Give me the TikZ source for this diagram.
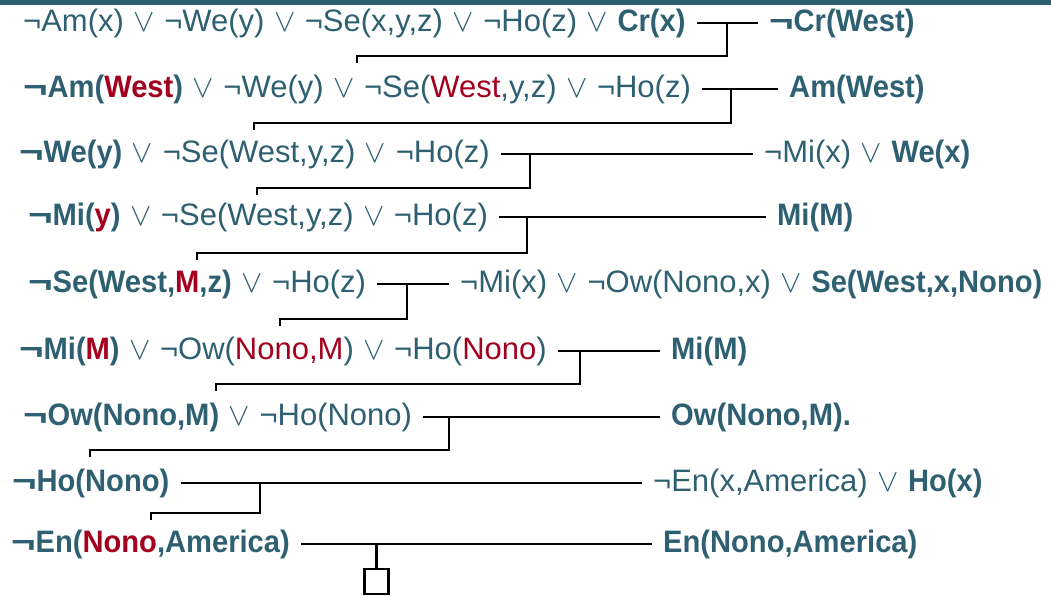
\RequirePackage{fix-cm}
\documentclass[tikz,border=0pt]{standalone}
\usepackage{fontspec}
\setmainfont{Liberation Sans}[BoldFeatures={FakeStretch=0.94}]
\newfontfamily\wideneg{Liberation Sans}[FakeStretch=1.35]
\definecolor{tealtxt}{HTML}{2E6072}
\definecolor{redtxt}{HTML}{A3001E}
\definecolor{topbar}{HTML}{2F5F72}
\newcommand\myor{\kern0.9pt{\fontsize{32}{32}\selectfont$\vee$}\kern0.9pt}
\newcommand\bneg{{\wideneg\bfseries ¬}}
\newcommand\rd[1]{\textcolor{redtxt}{#1}}
\begin{document}
\begin{tikzpicture}[x=1pt,y=-1pt,
  clause/.style={anchor=west, inner sep=0pt, text height=22pt, text depth=6pt,
    text=tealtxt, font=\fontsize{31}{37}\selectfont},
  link/.style={line width=2.9pt, black, line join=miter},
  emptybox/.style={draw=black, line width=2.4pt, minimum width=24pt, minimum height=25pt, inner sep=0pt}]
\useasboundingbox (0,0) rectangle (1051,595);
\fill[topbar] (0,0) rectangle (1051,4.5);

% left clauses
\node[clause] (L1) at (23,23) {¬Am(x) \myor{} ¬We(y) \myor{} ¬Se(x,y,z) \myor{} ¬Ho(z) \myor{} \textbf{Cr(x)}};
\node[clause] (L2) at (23,89) {\bneg\textbf{Am(\rd{West})} \myor{} ¬We(y) \myor{} ¬Se(\rd{West},y,z) \myor{} ¬Ho(z)};
\node[clause] (L3) at (19,154) {\bneg\textbf{We(y)} \myor{} ¬Se(West,y,z) \myor{} ¬Ho(z)};
\node[clause] (L4) at (28,217) {\bneg\textbf{Mi(\rd{y})} \myor{} ¬Se(West,y,z) \myor{} ¬Ho(z)};
\node[clause] (L5) at (28,284) {\bneg\textbf{Se(West,\rd{M},z)} \myor{} ¬Ho(z)};
\node[clause] (L6) at (19,351) {\bneg\textbf{Mi(\rd{M})} \myor{} ¬Ow(\rd{Nono,M}) \myor{} ¬Ho(\rd{Nono})};
\node[clause] (L7) at (23,417) {\bneg\textbf{Ow(Nono,M)} \myor{} ¬Ho(Nono)};
\node[clause] (L8) at (12,483) {\bneg\textbf{Ho(Nono)}};
\node[clause] (L9) at (11,544) {\bneg\textbf{En(\rd{Nono},America)}};

% right clauses
\node[clause] (R1) at (769,23) {\bneg\textbf{Cr(West)}};
\node[clause] (R2) at (789,89) {\textbf{Am(West)}};
\node[clause] (R3) at (764,154) {¬Mi(x) \myor{} \textbf{We(x)}};
\node[clause] (R4) at (777,217) {\textbf{Mi(M)}};
\node[clause] (R5) at (460,284) {¬Mi(x) \myor{} ¬Ow(Nono,x) \myor{} \textbf{Se(West,x,Nono)}};
\node[clause] (R6) at (671,351) {\textbf{Mi(M)}};
\node[clause] (R7) at (671,417) {\textbf{Ow(Nono,M).}};
\node[clause] (R8) at (653,483) {¬En(x,America) \myor{} \textbf{Ho(x)}};
\node[clause] (R9) at (663,544) {\textbf{En(Nono,America)}};

% empty clause
\node[emptybox] (E) at (376.5,581.5) {};

% junctions, bracket corners and tick ends
\coordinate (J1) at (727,23);  \coordinate (B1) at (357,56);  \coordinate (T1) at (357,63);
\coordinate (J2) at (731,89);  \coordinate (B2) at (254,123); \coordinate (T2) at (254,130);
\coordinate (J3) at (530,154); \coordinate (B3) at (257,188); \coordinate (T3) at (257,195);
\coordinate (J4) at (527,217); \coordinate (B4) at (197,253); \coordinate (T4) at (197,260);
\coordinate (J5) at (407,284); \coordinate (B5) at (280,319); \coordinate (T5) at (280,326);
\coordinate (J6) at (580,351); \coordinate (B6) at (216,384); \coordinate (T6) at (216,391);
\coordinate (J7) at (449,417); \coordinate (B7) at (90,450);  \coordinate (T7) at (90,457);
\coordinate (J8) at (260,483); \coordinate (B8) at (151,513); \coordinate (T8) at (151,520);
\coordinate (J9) at (376.5,544);

\foreach \i in {1,...,9}{
  \draw[link] ([xshift=11pt]L\i.east) -- ([xshift=-11pt]R\i.west);
}
\foreach \i in {1,...,8}{
  \draw[link] (J\i) |- (B\i) -- (T\i);
}
\draw[link] (J9) -- (E.north);
\end{tikzpicture}
\end{document}
